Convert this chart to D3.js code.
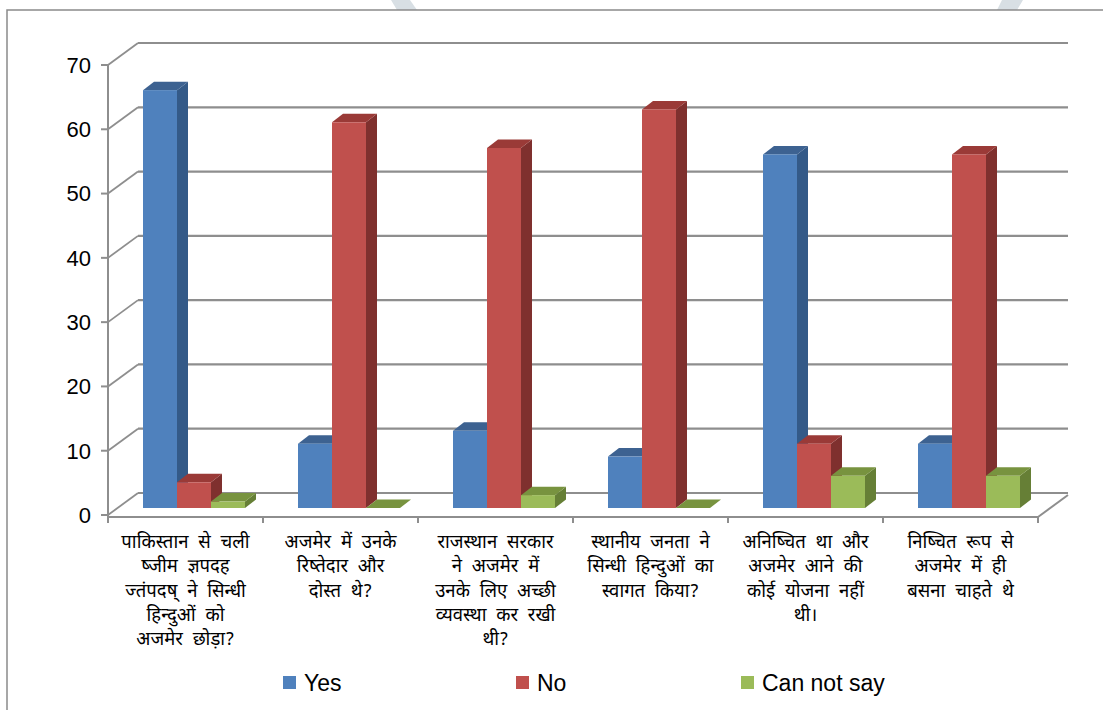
<!DOCTYPE html>
<html><head><meta charset="utf-8">
<script src="https://cdn.jsdelivr.net/npm/d3@7"></script>
<style>body{margin:0;background:#fff}svg{display:block}</style>
</head><body>
<svg id="c" width="1103" height="710"></svg>
<script>
const categories = [
  ["पाकिस्तान से चली", "ष्जीम ज्ञपदह", "ज्तंपदष् ने सिन्धी", "हिन्दुओं को", "अजमेर छोड़ा?"],
  ["अजमेर में उनके", "रिष्तेदार और", "दोस्त थे?"],
  ["राजस्थान सरकार", "ने अजमेर में", "उनके लिए अच्छी", "व्यवस्था कर रखी", "थी?"],
  ["स्थानीय जनता ने", "सिन्धी हिन्दुओं का", "स्वागत किया?"],
  ["अनिष्चित था और", "अजमेर आने की", "कोई योजना नहीं", "थी।"],
  ["निष्चित रूप से", "अजमेर में ही", "बसना चाहते थे"]
];
const seriesNames = ["Yes", "No", "Can not say"];
const yesValues = [65, 10, 12, 8, 55, 10];
const noValues = [4, 60, 56, 62, 10, 55];
const cannotValues = [1, 0, 2, 0, 5, 5];
const yTicks = [0, 10, 20, 30, 40, 50, 60, 70];

const seriesValues = [yesValues, noValues, cannotValues];
const colors = [
  {front: "#4F81BD", top: "#3D6291", side: "#345A88"},
  {front: "#C0504D", top: "#9A3A37", side: "#7F302E"},
  {front: "#9BBB59", top: "#78933F", side: "#667F36"}
];

const svg = d3.select("#c");
const font = "'Liberation Sans', Arial, sans-serif";
const devFont = "'Noto Sans Devanagari','Lohit Devanagari','Mangal','Noto Sans','FreeSans',sans-serif";

// watermark pieces
svg.append("polygon").attr("points", "391,0 410,0 417,10 397,10").attr("fill", "#d8dfe4");
svg.append("polygon").attr("points", "1002,0 1023,0 1017,10 997,10").attr("fill", "#d8dfe4");

// frame
svg.append("rect").attr("x", 7).attr("y", 10).attr("width", 1110).attr("height", 720)
  .attr("fill", "none").attr("stroke", "#8a8a8a").attr("stroke-width", 1.5);

const catIdx = d3.range(categories.length);
const x = d3.scaleBand().domain(catIdx).range([108, 1038]);
const y = d3.scaleLinear().domain([0, 70]).range([515, 65]);
const inner = d3.scaleBand().domain(d3.range(3)).range([25, 127]).padding(0);

const DX = 30, DY = -22;       // full depth of plot
const BX = 10, BY = -7;        // bar front offset
const bdx = 11, bdy = -8.5;    // bar depth

const gridColor = "#8e8e8e";
const g = svg.append("g");
yTicks.forEach(v => {
  g.append("line").attr("x1", 108 + DX).attr("x2", 1038 + DX)
    .attr("y1", y(v) + DY).attr("y2", y(v) + DY)
    .attr("stroke", gridColor).attr("stroke-width", 2.2);
  g.append("line").attr("x1", 108).attr("y1", y(v)).attr("x2", 108 + DX).attr("y2", y(v) + DY)
    .attr("stroke", gridColor).attr("stroke-width", 1.8);
});
g.append("line").attr("x1", 108).attr("x2", 1038).attr("y1", y(0) + 2).attr("y2", y(0) + 2)
  .attr("stroke", gridColor).attr("stroke-width", 2.2);
g.append("line").attr("x1", 1038).attr("y1", y(0) + 2).attr("x2", 1038 + DX).attr("y2", y(0) + 2 + DY)
  .attr("stroke", gridColor).attr("stroke-width", 2);
g.append("line").attr("x1", 108).attr("x2", 108).attr("y1", y(70)).attr("y2", y(0) + 2)
  .attr("stroke", gridColor).attr("stroke-width", 2);
yTicks.forEach(v => {
  g.append("line").attr("x1", 101).attr("x2", 108).attr("y1", y(v)).attr("y2", y(v))
    .attr("stroke", gridColor).attr("stroke-width", 2);
  g.append("text").attr("x", 91).attr("y", y(v)).attr("dy", "0.36em")
    .attr("text-anchor", "end").attr("font-family", font).attr("font-size", 22)
    .attr("fill", "#000").text(v);
});
d3.range(categories.length + 1).forEach(i => {
  const xx = i < categories.length ? x(i) : 1038;
  g.append("line").attr("x1", xx).attr("x2", xx).attr("y1", y(0) + 2).attr("y2", y(0) + 8)
    .attr("stroke", gridColor).attr("stroke-width", 2);
});

const bars = svg.append("g");
catIdx.forEach(ci => {
  seriesValues.forEach((vals, si) => {
    const v = vals[ci];
    const x0 = x(ci) + inner(si) + BX;
    const w = inner.bandwidth();
    const yb = y(0) + BY;
    const yt = y(v) + BY;
    const c = colors[si];
    bars.append("polygon").attr("points", [
      [x0 + w, yt], [x0 + w + bdx, yt + bdy], [x0 + w + bdx, yb + bdy], [x0 + w, yb]
    ].map(p => p.join(",")).join(" ")).attr("fill", c.side);
    bars.append("polygon").attr("points", [
      [x0, yt], [x0 + bdx, yt + bdy], [x0 + w + bdx, yt + bdy], [x0 + w, yt]
    ].map(p => p.join(",")).join(" ")).attr("fill", c.top);
    bars.append("rect").attr("x", x0).attr("y", yt).attr("width", w).attr("height", yb - yt)
      .attr("fill", c.front);
  });
});

catIdx.forEach(ci => {
  const t = svg.append("text").attr("text-anchor", "middle")
    .attr("font-family", devFont).attr("font-size", 18.5).attr("word-spacing", 5)
    .attr("fill", "#000");
  categories[ci].forEach((line, li) => {
    t.append("tspan").attr("x", x(ci) + x.bandwidth() / 2).attr("y", 548 + li * 24.3).text(line);
  });
});

const legendX = [283, 516, 741];
seriesNames.forEach((n, i) => {
  svg.append("rect").attr("x", legendX[i]).attr("y", 676).attr("width", 13).attr("height", 13)
    .attr("fill", colors[i].front);
  svg.append("text").attr("x", legendX[i] + 21).attr("y", 683).attr("dy", "0.36em")
    .attr("font-family", font).attr("font-size", 23).attr("fill", "#000").text(n);
});
</script>
</body></html>
